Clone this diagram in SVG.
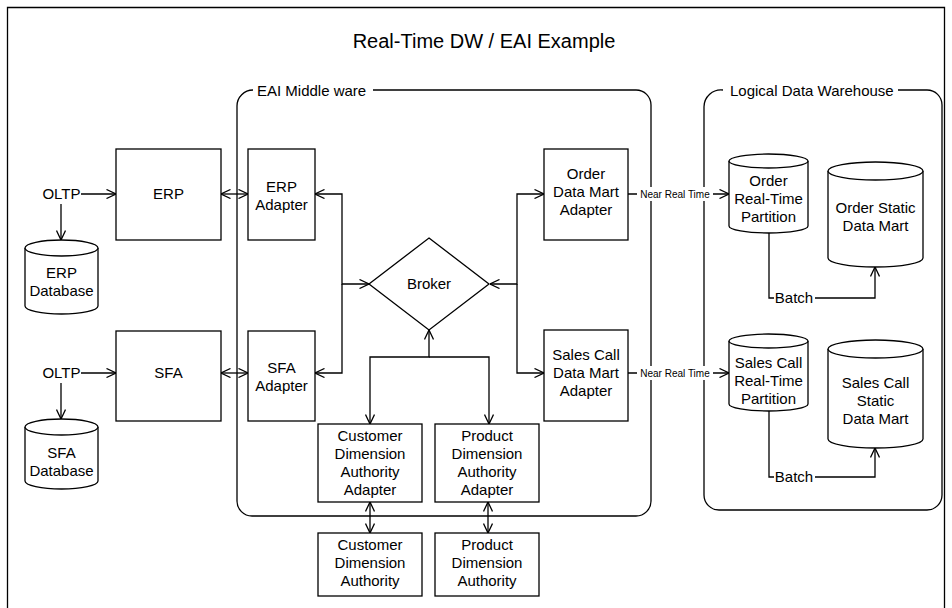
<svg xmlns="http://www.w3.org/2000/svg" width="952" height="608" viewBox="0 0 952 608">
<style>
.s{fill:#fff;stroke:#000;stroke-width:1.3}
.c{fill:none;stroke:#000;stroke-width:1.3}
text{font-family:"Liberation Sans",Arial,Helvetica,sans-serif;font-size:15px;fill:#000;text-anchor:middle}
.l{text-anchor:start}
.sm{font-size:10px}
.t{font-size:20px}
</style>
<defs>
<marker id="a" viewBox="0 0 10 10" refX="10" refY="5" markerWidth="10" markerHeight="10" markerUnits="userSpaceOnUse" orient="auto-start-reverse">
<path d="M0.5,0.5 L10,5 L0.5,9.5" fill="none" stroke="#000" stroke-width="1.3"/>
</marker>
</defs>
<rect width="952" height="608" fill="#fff"/>
<g id="frame">
<path class="c" d="M7.5,620 V7.5 H944.5 V620"/>
<text class="t" x="484" y="48">Real-Time DW / EAI Example</text>
</g>
<g id="eai-container">
<path class="c" d="M373,90 H636 A15,15 0 0 1 651,105 V501 A15,15 0 0 1 636,516 H252 A15,15 0 0 1 237,501 V106 A16,16 0 0 1 253,90"/>
<text class="l" x="257" y="96">EAI Middle ware</text>
</g>
<g id="ldw-container">
<path class="c" d="M898,90 H927 A15,15 0 0 1 942,105 V495 A15,15 0 0 1 927,510 H719 A15,15 0 0 1 704,495 V107 A17,17 0 0 1 723,90"/>
<text class="l" x="730" y="96">Logical Data Warehouse</text>
</g>
<g id="connectors">
<path class="c" d="M81,194 H116" marker-end="url(#a)"/>
<path class="c" d="M61,204 V240" marker-end="url(#a)"/>
<path class="c" d="M81,373 H116" marker-end="url(#a)"/>
<path class="c" d="M61,383 V419" marker-end="url(#a)"/>
<path class="c" d="M221,194 H248" marker-start="url(#a)" marker-end="url(#a)"/>
<path class="c" d="M221,373 H248" marker-start="url(#a)" marker-end="url(#a)"/>
<path class="c" d="M315,194 H342 V284 H369" marker-start="url(#a)" marker-end="url(#a)"/>
<path class="c" d="M315,373 H342 V284" marker-start="url(#a)"/>
<path class="c" d="M490,284 H517 V194 H544" marker-start="url(#a)" marker-end="url(#a)"/>
<path class="c" d="M517,284 V373 H544" marker-end="url(#a)"/>
<path class="c" d="M429,330 V357 H370 V424" marker-start="url(#a)" marker-end="url(#a)"/>
<path class="c" d="M429,357 H489 V424" marker-end="url(#a)"/>
<path class="c" d="M370,502 V533" marker-start="url(#a)" marker-end="url(#a)"/>
<path class="c" d="M488,502 V533" marker-start="url(#a)" marker-end="url(#a)"/>
<path class="c" d="M628,194 H729" marker-end="url(#a)"/>
<rect x="637" y="187" width="76" height="14" fill="#fff"/>
<text class="sm" x="675" y="197.5">Near Real Time</text>
<path class="c" d="M628,373 H729" marker-end="url(#a)"/>
<rect x="637" y="366" width="76" height="14" fill="#fff"/>
<text class="sm" x="675" y="376.5">Near Real Time</text>
<path class="c" d="M769,233 V298 H875 V267" marker-end="url(#a)"/>
<rect x="774" y="290" width="41" height="16" fill="#fff"/>
<text x="794" y="303">Batch</text>
<path class="c" d="M769,411 V477 H875 V448" marker-end="url(#a)"/>
<rect x="774" y="469" width="41" height="16" fill="#fff"/>
<text x="794" y="482">Batch</text>
</g>
<g id="oltp1"><text x="61.5" y="199">OLTP</text></g>
<g id="oltp2"><text x="61.5" y="378">OLTP</text></g>
<g id="erp"><rect class="s" x="116" y="149" width="105" height="91"/><text x="168.5" y="199">ERP</text></g>
<g id="sfa"><rect class="s" x="116" y="331" width="105" height="90"/><text x="168.5" y="378">SFA</text></g>
<g id="erp-db">
<path class="s" d="M25,248 V306 A36.5,8 0 0 0 98,306 V248"/>
<ellipse class="s" cx="61.5" cy="248" rx="36.5" ry="8"/>
<text x="61.5" y="278">ERP</text><text x="61.5" y="296">Database</text>
</g>
<g id="sfa-db">
<path class="s" d="M25,427 V481 A36.5,8 0 0 0 98,481 V427"/>
<ellipse class="s" cx="61.5" cy="427" rx="36.5" ry="8"/>
<text x="61.5" y="458">SFA</text><text x="61.5" y="476">Database</text>
</g>
<g id="erp-adapter"><rect class="s" x="248" y="149" width="67" height="91"/><text x="281.5" y="192">ERP</text><text x="281.5" y="210">Adapter</text></g>
<g id="sfa-adapter"><rect class="s" x="248" y="331" width="67" height="90"/><text x="281.5" y="373">SFA</text><text x="281.5" y="391">Adapter</text></g>
<g id="broker"><path class="s" d="M429,238 L489,284 L429,330 L369,284 Z"/><text x="429" y="289">Broker</text></g>
<g id="order-dm-adapter"><rect class="s" x="544" y="149" width="84" height="91"/><text x="586" y="179">Order</text><text x="586" y="197">Data Mart</text><text x="586" y="215">Adapter</text></g>
<g id="salescall-dm-adapter"><rect class="s" x="544" y="330" width="84" height="91"/><text x="586" y="360">Sales Call</text><text x="586" y="378">Data Mart</text><text x="586" y="396">Adapter</text></g>
<g id="cust-adapter"><rect class="s" x="318" y="424" width="104" height="78"/><text x="370" y="441">Customer</text><text x="370" y="459">Dimension</text><text x="370" y="477">Authority</text><text x="370" y="495">Adapter</text></g>
<g id="prod-adapter"><rect class="s" x="435" y="424" width="104" height="78"/><text x="487" y="441">Product</text><text x="487" y="459">Dimension</text><text x="487" y="477">Authority</text><text x="487" y="495">Adapter</text></g>
<g id="cust-auth"><rect class="s" x="318" y="533" width="104" height="63"/><text x="370" y="550">Customer</text><text x="370" y="568">Dimension</text><text x="370" y="586">Authority</text></g>
<g id="prod-auth"><rect class="s" x="435" y="533" width="104" height="63"/><text x="487" y="550">Product</text><text x="487" y="568">Dimension</text><text x="487" y="586">Authority</text></g>
<g id="order-rt">
<path class="s" d="M729,161 V226 A39.5,7 0 0 0 808,226 V161"/>
<ellipse class="s" cx="768.5" cy="161" rx="39.5" ry="7"/>
<text x="768.5" y="186">Order</text><text x="768.5" y="204">Real-Time</text><text x="768.5" y="222">Partition</text>
</g>
<g id="order-static">
<path class="s" d="M828,171 V258 A47.5,9 0 0 0 923,258 V171"/>
<ellipse class="s" cx="875.5" cy="171" rx="47.5" ry="9"/>
<text x="875.5" y="213">Order Static</text><text x="875.5" y="231">Data Mart</text>
</g>
<g id="salescall-rt">
<path class="s" d="M729,341 V404 A39.5,7 0 0 0 808,404 V341"/>
<ellipse class="s" cx="768.5" cy="341" rx="39.5" ry="7"/>
<text x="768.5" y="368">Sales Call</text><text x="768.5" y="386">Real-Time</text><text x="768.5" y="404">Partition</text>
</g>
<g id="salescall-static">
<path class="s" d="M828,349 V439 A47.5,9 0 0 0 923,439 V349"/>
<ellipse class="s" cx="875.5" cy="349" rx="47.5" ry="9"/>
<text x="875.5" y="388">Sales Call</text><text x="875.5" y="406">Static</text><text x="875.5" y="424">Data Mart</text>
</g>
</svg>
